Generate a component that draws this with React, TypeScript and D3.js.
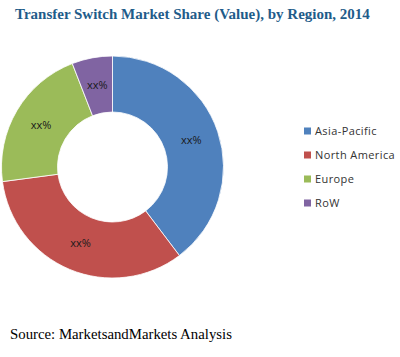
import React from "react";
import * as d3 from "d3";

const regions = ["Asia-Pacific", "North America", "Europe", "RoW"];
const shares = [39.7, 33.2, 21.2, 5.9];
const labels = ["xx%", "xx%", "xx%", "xx%"];
const colors = ["#4F81BD", "#C0504D", "#9BBB59", "#8064A2"];

export default function App() {
  const W = 400, H = 357;
  const cx = 112.5, cy = 167, rOuter = 111, rInner = 55;
  const pie = d3.pie<number>().sort(null).value((d) => d)(shares);
  const arc = d3.arc<d3.PieArcDatum<number>>().innerRadius(rInner).outerRadius(rOuter);
  const labelArc = d3.arc<d3.PieArcDatum<number>>().innerRadius(83).outerRadius(83);
  const legendY = d3.scalePoint<string>().domain(regions).range([131, 203]);
  return (
    <svg width={W} height={H} style={{ position: "absolute", left: 0, top: 0, background: "#fff" }}>
      <text x={15} y={18.5} fontFamily="Liberation Serif" fontWeight="bold" fontSize={15} fill="#1F5C8A">
        Transfer Switch Market Share (Value), by Region, 2014
      </text>
      <g transform={`translate(${cx},${cy})`}>
        {pie.map((p, i) => (
          <path key={i} d={arc(p) || ""} fill={colors[i]} stroke="#fff" strokeWidth={0.8} />
        ))}
        {pie.map((p, i) => {
          const [x, y] = labelArc.centroid(p);
          return (
            <text key={"l" + i} x={x} y={y} dy="0.35em" textAnchor="middle" fontFamily="Open Sans" fontSize={11} fill="#1a1a1a">
              {labels[i]}
            </text>
          );
        })}
      </g>
      {regions.map((r, i) => (
        <g key={r} transform={`translate(0,${legendY(r)})`}>
          <rect x={304} y={-3.5} width={7} height={7} fill={colors[i]} />
          <text x={315} y={0} dy="0.35em" fontFamily="Open Sans" fontSize={11} fill="#333" letterSpacing={0.4}>
            {r}
          </text>
        </g>
      ))}
      <text x={10} y={339} fontFamily="Liberation Serif" fontSize={14.8} fill="#000">
        Source: MarketsandMarkets Analysis
      </text>
    </svg>
  );
}
